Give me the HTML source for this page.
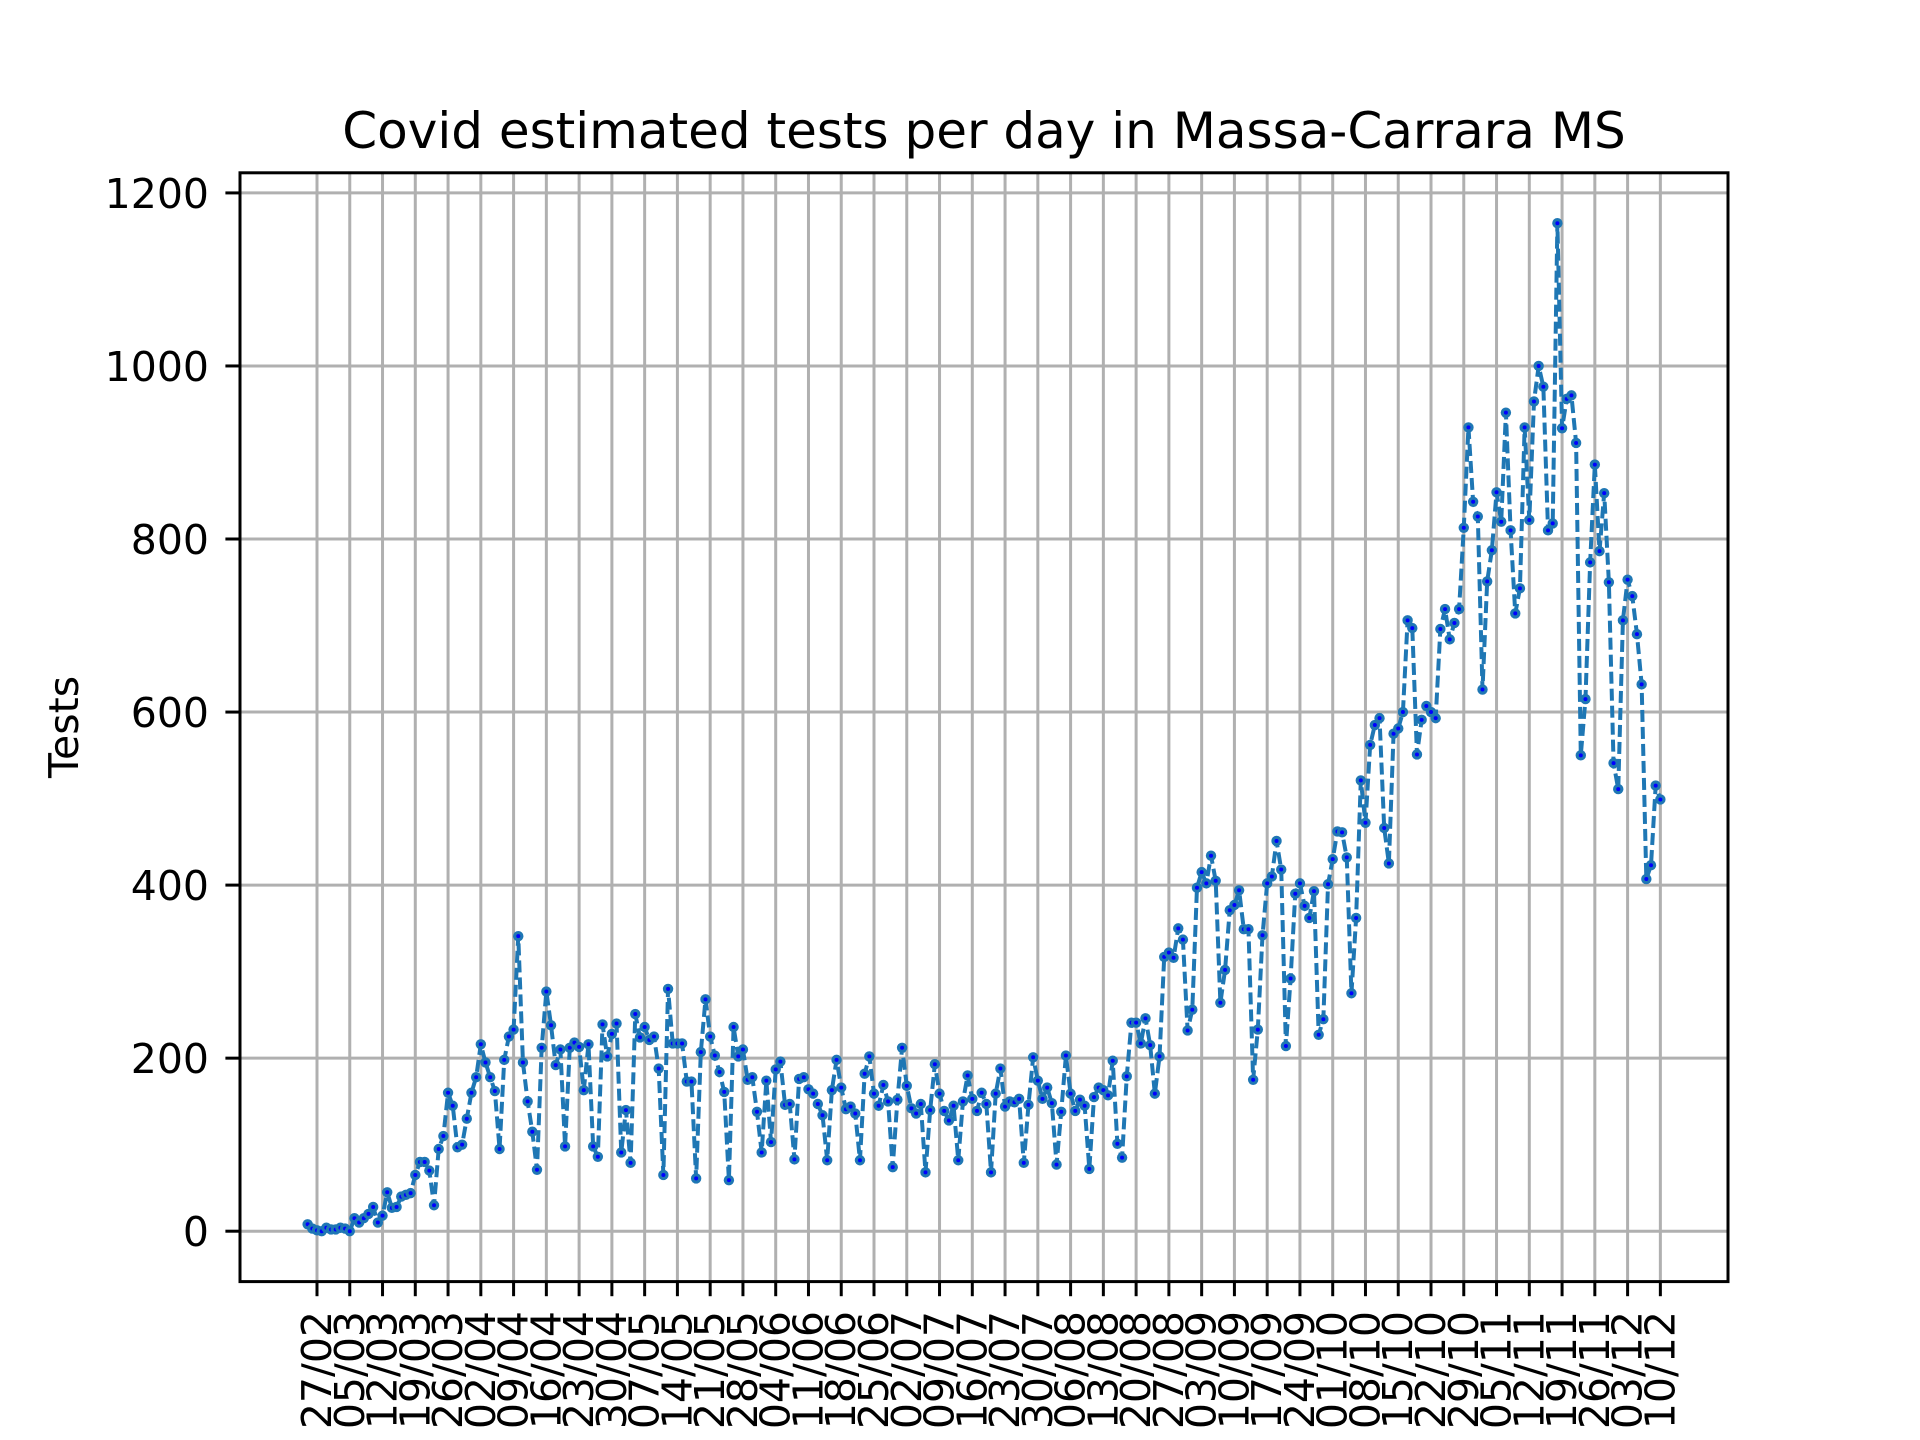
<!DOCTYPE html>
<html>
<head>
<meta charset="utf-8">
<style>
  html, body { margin:0; padding:0; background:#fff; }
  svg { display:block; }
  text { font-family: "DejaVu Sans", "Liberation Sans", sans-serif; fill:#000; }
</style>
</head>
<body>
<svg id="chart" xmlns="http://www.w3.org/2000/svg" width="1920" height="1440" viewBox="0 0 1920 1440">
  <rect x="0" y="0" width="1920" height="1440" fill="#ffffff"/>
  <g id="grid"></g>
  <g id="series"></g>
  <g id="axes"></g>
  <text x="984" y="148" font-size="50" text-anchor="middle">Covid estimated tests per day in Massa-Carrara MS</text>
  <text transform="translate(78,727) rotate(-90)" font-size="41" text-anchor="middle">Tests</text>
</svg>
<script>
// Daily values starting 25/02 (day index 0) through 10/12
const tests = [8,3,1,0,4,2,2,4,3,0,15,10,15,20,28,10,18,45,27,28,40,42,44,65,80,80,70,30,95,110,160,145,97,100,130,160,178,216,195,178,162,95,198,225,233,341,195,150,115,71,212,277,238,192,210,98,212,218,213,163,216,98,86,
239,202,228,240,91,140,79,
251,224,236,221,225,188,65,280,217,217,217,173,173,61,207,268,225,203,184,161,59,236,202,210,175,178,138,91,174,103,187,196,146,147,83,176,178,164,159,147,134,82,163,198,166,141,144,136,82,182,202,159,145,169,150,74,
152,212,168,142,136,147,68,140,193,159,139,128,145,82,150,180,153,139,160,147,68,159,188,144,150,149,153,79,146,201,174,153,166,148,77,138,203,159,139,152,145,72,155,166,163,157,197,101,85,179,241,241,217,246,215,159,202,317,322,316,350,337,232,
256,397,415,402,434,405,264,302,371,377,394,349,349,175,233,342,402,410,451,418,214,292,390,402,376,362,393,227,245,401,430,462,461,432,275,362,521,472,562,585,593,466,
425,575,581,600,706,697,551,591,607,600,593,696,719,684,703,719,813,929,843,826,626,751,787,854,820,946,810,714,743,929,822,959,
1000,976,810,818,
1165,928,962,966,911,550,615,773,886,786,853,750,541,511,706,753,734,690,632,407,423,515,499];
const xTickLabels = ["27/02","05/03","12/03","19/03","26/03","02/04","09/04","16/04","23/04","30/04","07/05","14/05","21/05","28/05","04/06","11/06","18/06","25/06","02/07","09/07","16/07","23/07","30/07","06/08","13/08","20/08","27/08","03/09","10/09","17/09","24/09","01/10","08/10","15/10","22/10","29/10","05/11","12/11","19/11","26/11","03/12","10/12"];
const xTickFirstDay = 2;
const xTickStepDays = 7;
const yTicks = [0,200,400,600,800,1000,1200];

const NS = "http://www.w3.org/2000/svg";
const L = 240, R = 1728, T = 172.8, B = 1281.6;
const N = tests.length - 1;
const xMin = -0.05 * N, xMax = N + 0.05 * N;
const vMax = Math.max(...tests), vMin = Math.min(...tests);
const yMin = vMin - 0.05 * (vMax - vMin), yMax = vMax + 0.05 * (vMax - vMin);
function xs(d) { return L + (R - L) * (d - xMin) / (xMax - xMin); }
function ys(v) { return B - (B - T) * (v - yMin) / (yMax - yMin); }
function mk(tag, attrs, parent) {
  const e = document.createElementNS(NS, tag);
  for (const k in attrs) e.setAttribute(k, attrs[k]);
  parent.appendChild(e);
  return e;
}
const grid = document.getElementById('grid');
const axes = document.getElementById('axes');
const series = document.getElementById('series');

xTickLabels.forEach((lab, i) => {
  const x = xs(xTickFirstDay + i * xTickStepDays);
  const g = mk('line', {x1:x, x2:x, y1:T, y2:B, stroke:'#b0b0b0', 'stroke-width':3}, grid);
  
  
  const t = mk('line', {x1:x, x2:x, y1:B, y2:B + 14.6, stroke:'#000', 'stroke-width':3}, axes);
  
  
  const tx = mk('text', {transform:`translate(${x + 14},1311) rotate(-90)`, 'font-size':41, 'text-anchor':'end'}, axes);
  tx.textContent = lab;
  
  
});
yTicks.forEach(v => {
  const y = ys(v);
  const g = mk('line', {x1:L, x2:R, y1:y, y2:y, stroke:'#b0b0b0', 'stroke-width':3}, grid);
  
  
  const t = mk('line', {x1:L - 14.6, x2:L, y1:y, y2:y, stroke:'#000', 'stroke-width':3}, axes);
  
  
  const tx = mk('text', {x:209, y:y + 15, 'font-size':41, 'text-anchor':'end'}, axes);
  tx.textContent = String(v);
  
  
});
const frame = mk('rect', {x:L, y:T, width:R - L, height:B - T, fill:'none', stroke:'#000', 'stroke-width':3}, axes);



const pts = tests.map((v, i) => xs(i).toFixed(2) + ',' + ys(v).toFixed(2)).join(' ');
const line = mk('polyline', {points:pts, fill:'none', stroke:'#1f77b4', 'stroke-width':4, 'stroke-dasharray':'12 5', 'stroke-linejoin':'round'}, series);


tests.forEach((v, i) => {
  const c = mk('circle', {cx:xs(i), cy:ys(v), r:5.2, fill:'#1f77b4'}, series);
  
  
  const d = mk('circle', {cx:xs(i), cy:ys(v), r:2, fill:'#0000ff'}, series);
  
  
});
</script>
</body>
</html>
